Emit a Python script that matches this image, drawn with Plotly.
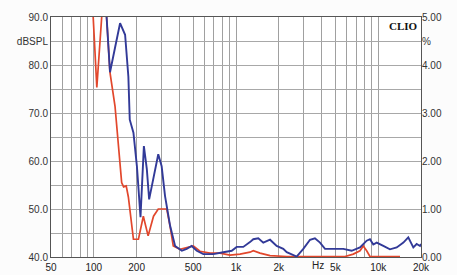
import plotly.graph_objects as go

# Blue curve, dB SPL
blue_freq = [94, 115, 123, 130, 141, 153, 166, 175, 179, 190, 201, 209, 213, 225, 236, 245, 263, 284, 300, 317,
             344, 373, 416, 450, 488, 530, 589, 693, 813, 933, 1011, 1125, 1254, 1323, 1435, 1514, 1556, 1735, 1932,
             2150, 2274, 2672, 2974, 3316, 3589, 3898, 4227, 4832, 5684, 6504, 7446, 8297, 8750, 9235, 9760, 10865,
             12097, 13500, 15035, 16277, 17661, 18643, 19682, 20000]
blue_db = [100, 96, 90, 78.5, 83.6, 88.7, 86.3, 77.6, 68.6, 65.9, 58.9, 50.0, 48.3, 63.1, 58.3, 52.0, 56.9, 61.4, 58.9, 52.7,
           46.5, 42.3, 41.3, 41.7, 42.3, 41.3, 40.6, 40.6, 41.0, 41.3, 42.1, 42.1, 43.1, 43.7, 43.9, 43.2, 43.0, 43.6, 42.3,
           41.7, 41.0, 40.1, 41.7, 43.6, 43.9, 43.0, 41.7, 41.7, 41.7, 41.3, 42.0, 43.4, 43.7, 42.6, 43.0, 42.3,
           41.6, 42.0, 43.0, 44.1, 42.0, 42.7, 42.3, 42.7]

# Red curve, dB SPL
red_freq = [88, 99, 105, 114, 118, 123, 130, 141, 149, 153, 157, 162, 169, 175, 179, 190, 206, 223, 241, 263,
            284, 326, 344, 362, 404, 462, 501, 558, 656, 772, 907, 1067, 1254, 1323, 1475, 1735, 2274, 5842, 6681,
            7446, 7856, 8297, 8750, 14240]
red_db = [100, 90, 75.3, 90, 97, 90, 78.4, 71.4, 63.8, 59.7, 55.5, 54.6, 54.8, 52.5, 50.0, 43.7, 43.7, 48.5, 44.4, 48.5,
          50.0, 50.0, 46.4, 42.3, 41.6, 42.0, 42.3, 41.2, 40.8, 40.8, 40.4, 40.6, 41.0, 41.3, 40.8, 40.3, 40.1, 40.1, 40.6,
          41.3, 42.3, 41.3, 40.1, 40.1]

# Axis ticks
x_grid = [50, 60, 70, 80, 90, 100, 200, 300, 400, 500, 600, 700, 800, 900, 1000, 2000, 3000, 4000, 5000, 6000,
          7000, 8000, 9000, 10000, 20000]
x_labels = {50: "50", 100: "100", 200: "200", 500: "500", 1000: "1k", 2000: "2k", 5000: "5k", 10000: "10k", 20000: "20k"}
y_grid = [40, 45, 50, 55, 60, 65, 70, 75, 80, 85, 90]
y_labels = {40: "40.0", 50: "50.0", 60: "60.0", 70: "70.0", 80: "80.0", 85: "dBSPL", 90: "90.0"}
y2_grid = [0, 1, 2, 3, 4, 4.5, 5]
y2_labels = ["0.00", "1.00", "2.00", "3.00", "4.00", "%", "5.00"]

fig = go.Figure()
fig.add_trace(go.Scatter(x=red_freq, y=red_db, mode="lines", line=dict(color="#e2472c", width=1.7),
                         showlegend=False, hoverinfo="skip"))
fig.add_trace(go.Scatter(x=blue_freq, y=blue_db, mode="lines", line=dict(color="#323a98", width=1.9),
                         showlegend=False, hoverinfo="skip"))
# invisible trace to activate the right axis
fig.add_trace(go.Scatter(x=[50, 20000], y=[0, 5], yaxis="y2", mode="lines", line=dict(width=0),
                         opacity=0, showlegend=False, hoverinfo="skip"))

font = dict(family="Liberation Sans, Arial, sans-serif", size=10, color="#333333")

fig.update_layout(
    width=457, height=275,
    margin=dict(l=51, r=36, t=17, b=18),
    paper_bgcolor="#fcfcfc",
    plot_bgcolor="white",
    font=font,
    xaxis=dict(type="log", range=[1.69897, 4.30103], tickvals=x_grid, automargin=False,
               ticktext=[x_labels.get(v, "") for v in x_grid], showgrid=True, gridcolor="#a0a0a0",
               gridwidth=1, showline=True, linecolor="#555555", linewidth=1, mirror=True, ticks="",
               zeroline=False, tickfont=dict(size=10, color="#222222"), ticklabelstandoff=1),
    yaxis=dict(range=[40, 90], tickvals=y_grid, ticktext=[y_labels.get(v, "") for v in y_grid], automargin=False,
               showgrid=True, gridcolor="#a8a8a8", gridwidth=1, showline=True, linecolor="#555555",
               linewidth=1, mirror=True, ticks="", zeroline=False, tickfont=dict(size=10, color="#333333")),
    yaxis2=dict(range=[0, 5], overlaying="y", side="right", tickvals=y2_grid, ticktext=y2_labels, automargin=False,
                showgrid=False, ticks="", zeroline=False, showline=False,
                tickfont=dict(size=10, color="#333333")),
    annotations=[
        dict(text="Hz", xref="paper", yref="paper", x=(318 - 51) / 370, y=0, yanchor="top", xanchor="center",
             yshift=-1, showarrow=False, font=dict(size=10, color="#222222")),
        dict(text="<b>CLIO</b>", xref="paper", yref="paper", x=1, y=1, xanchor="right", yanchor="top",
             xshift=-1, yshift=-1, showarrow=False,
             font=dict(family="Liberation Serif, Times New Roman, serif", size=11, color="#111111")),
    ],
)

fig.write_html("out.html", config={"displayModeBar": False, "staticPlot": True},
               post_script="document.body.style.margin='0';document.body.style.overflow='hidden';")
